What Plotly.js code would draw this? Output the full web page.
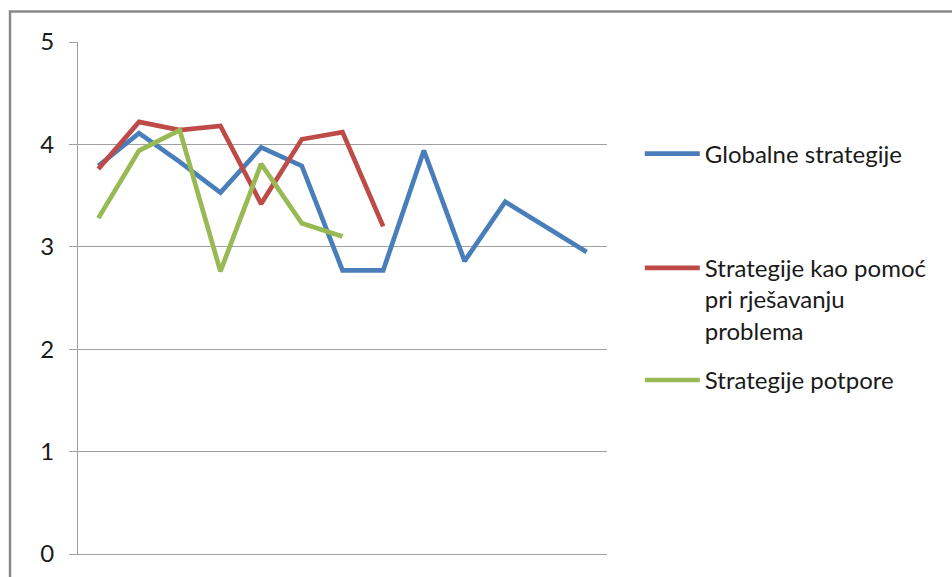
<!DOCTYPE html>
<html>
<head>
<meta charset="utf-8">
<script src="https://cdn.plot.ly/plotly-3.0.1.min.js"></script>
<style>
html,body{margin:0;padding:0;background:#fff;}
#chart{width:952px;height:577px;}
</style>
</head>
<body>
<div id="chart"></div>
<script>
var categories = [1,2,3,4,5,6,7,8,9,10,11,12,13];
var globalne = [3.79,4.11,3.83,3.53,3.97,3.79,2.77,2.77,3.94,2.86,3.44,3.20,2.95];
var pomoc = [3.76,4.22,4.14,4.18,3.42,4.05,4.12,3.20,null,null,null,null,null];
var potpore = [3.28,3.94,4.14,2.76,3.81,3.23,3.10,null,null,null,null,null,null];
var seriesNames = ["Globalne strategije","Strategije kao pomoć<br>pri rješavanju<br>problema","Strategije potpore"];
var yTicks = [0,1,2,3,4,5];

var FONT = "Lato, 'Open Sans', sans-serif";
var colors = ["#4a7ebb","#be4b48","#98b954"];
var seriesVals = [globalne, pomoc, potpore];
var legendIds = ["legend","legend2","legend3"];

var traces = seriesVals.map(function(v,i){
  return {
    type:"scatter", mode:"lines", x:categories, y:v, name:seriesNames[i],
    line:{color:colors[i], width:4.7}, connectgaps:false,
    legend:legendIds[i], hoverinfo:"skip"
  };
});

function legendAt(y){
  return {x:1.062, xanchor:"left", y:y, yanchor:"top", valign:"top",
    font:{family:FONT,size:24,color:"#1a1a1a"}, bgcolor:"rgba(0,0,0,0)",
    itemwidth:55, tracegroupgap:0};
}

var layout = {
  width:952, height:577,
  margin:{l:78, r:345, t:42, b:23, pad:0},
  paper_bgcolor:"#ffffff", plot_bgcolor:"#ffffff",
  font:{family:FONT, size:24, color:"#1a1a1a"},
  showlegend:true,
  legend:legendAt(0.825),
  legend2:legendAt(0.602),
  legend3:legendAt(0.383),
  xaxis:{range:[0.5,13.5], showticklabels:false, showgrid:false, zeroline:false,
    showline:true, linecolor:"#a0a0a0", linewidth:1, ticks:"", fixedrange:true},
  yaxis:{range:[0,5], tickvals:yTicks, ticktext:yTicks.map(String), showgrid:true,
    gridcolor:"#a0a0a0", gridwidth:1, zeroline:false, showline:true,
    linecolor:"#a0a0a0", linewidth:1, ticks:"outside", ticklen:8, tickcolor:"#a0a0a0",
    ticklabelstandoff:10, tickfont:{family:FONT,size:24,color:"#1a1a1a"}, fixedrange:true},
  shapes:[{type:"rect", xref:"paper", yref:"paper", x0:-0.1285, x1:2, y0:-0.3, y1:1.0596,
    line:{color:"#8a8a8a", width:2.5}, fillcolor:"rgba(0,0,0,0)", layer:"below"}]
};

Plotly.newPlot("chart", traces, layout, {displayModeBar:false, staticPlot:true});
</script>
</body>
</html>
